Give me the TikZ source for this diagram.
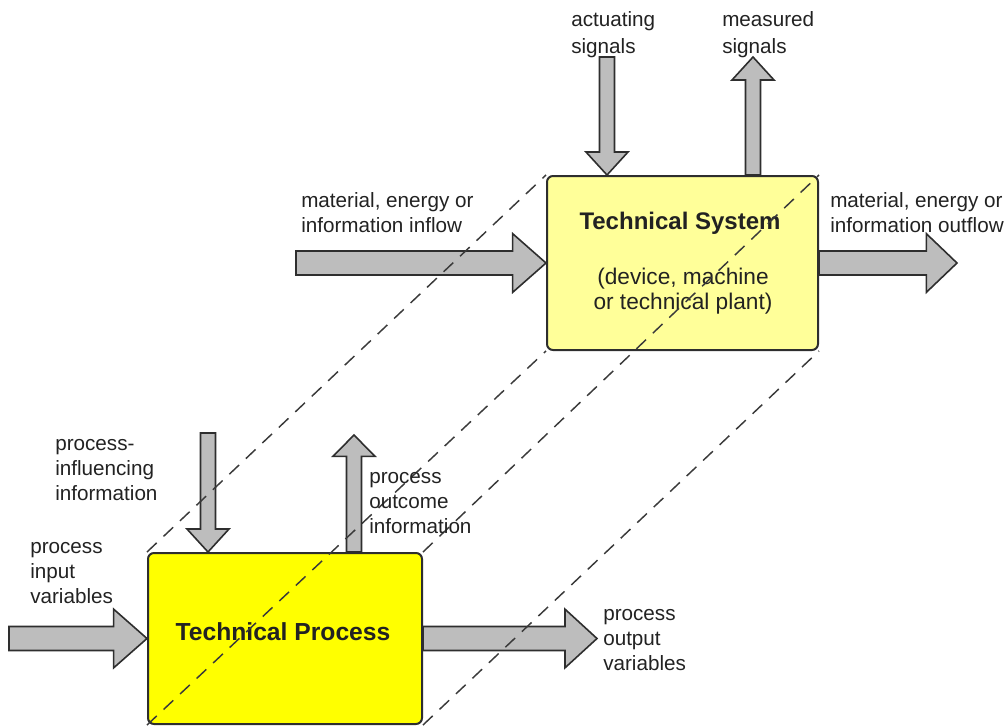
\documentclass[tikz,border=0pt]{standalone}
\usepackage{fontspec}
\setmainfont{Liberation Sans}
\usetikzlibrary{calc}
\definecolor{sysfill}{HTML}{FFFF99}
\definecolor{procfill}{HTML}{FFFF00}
\definecolor{arrfill}{HTML}{BDBDBD}
\definecolor{edgec}{HTML}{2E2E2E}
\definecolor{dashc}{HTML}{3A3A3A}
\definecolor{txtc}{HTML}{222222}
% #1 start, #2 end, #3 shaft half width, #4 head half width, #5 head length
\newcommand{\blockarr}[5]{%
  \path coordinate (ba-h) at ($(#2)!#5!(#1)$);
  \draw[barrow] ($(#1)!#3!90:(#2)$) -- ($(ba-h)!#3!-90:(#1)$) -- ($(ba-h)!#4!-90:(#1)$)
     -- (#2) -- ($(ba-h)!#4!90:(#1)$) -- ($(ba-h)!#3!90:(#1)$) -- ($(#1)!#3!-90:(#2)$) -- cycle;}
\begin{document}
\begin{tikzpicture}[x=0.75pt,y=-0.75pt,
  box/.style={draw=edgec, line width=1.5pt, rounded corners=4.5pt, inner sep=0pt},
  barrow/.style={draw=edgec, fill=arrfill, line width=1.2pt, line join=miter},
  guide/.style={draw=dashc, line width=1.1pt, dash pattern=on 10pt off 7pt},
  lbl/.style={anchor=base west, align=left, inner sep=0pt, text=txtc, font=\fontsize{15.5}{18.75}\selectfont},
  lbltop/.style={lbl, font=\fontsize{15.5}{20.25}\selectfont}]
\useasboundingbox (0,0) rectangle (1008,726);
% boxes
\node[box, fill=sysfill, minimum width=203.25pt, minimum height=130.5pt] (sys) at (682.5,263) {};
\node[box, fill=procfill, minimum width=205.5pt, minimum height=128.25pt] (proc) at (285,638.5) {};
\node[text=txtc, font=\bfseries\fontsize{18}{20}\selectfont] (systitle) at (680,223) {Technical System};
\node[text=txtc, font=\fontsize{17}{18.75}\selectfont, align=center] (syssub) at (683,291.5) {(device, machine\\or technical plant)};
\node[text=txtc, font=\bfseries\fontsize{18.5}{20}\selectfont] (proctitle) at (283,632) {Technical Process};
% arrow end points
\coordinate (inS) at (296,263);
\coordinate (outE) at (957,263);
\coordinate (actS) at (607,57);
\coordinate (actE) at (actS |- sys.north);
\coordinate (measE) at (753,57);
\coordinate (measS) at (measE |- sys.north);
\coordinate (infS) at (208,433);
\coordinate (infE) at (infS |- proc.north);
\coordinate (outcE) at (354,435);
\coordinate (outcS) at (outcE |- proc.north);
\coordinate (inpS) at (9,638.5);
\coordinate (outpE) at (597,638.5);
% block arrows
\blockarr{inS}{sys.west}{9pt}{22pt}{25pt}
\blockarr{sys.east}{outE}{9pt}{22pt}{23pt}
\blockarr{actS}{actE}{5.6pt}{15.75pt}{17.25pt}
\blockarr{measS}{measE}{5.6pt}{15.75pt}{17.25pt}
\blockarr{infS}{infE}{5.6pt}{15.75pt}{17.25pt}
\blockarr{outcS}{outcE}{5.6pt}{15.75pt}{16pt}
\blockarr{inpS}{proc.west}{9pt}{22pt}{25pt}
\blockarr{proc.east}{outpE}{9pt}{22pt}{24pt}
% dashed projection lines
\draw[guide] (proc.north west) -- (sys.north west);
\draw[guide] (proc.north east) -- (sys.north east);
\draw[guide] (proc.south west) -- (sys.south west);
\draw[guide] (proc.south east) -- (sys.south east);
% labels (base = last line baseline)
\node[lbltop] (lact) at (571,53) {actuating\\signals};
\node[lbltop] (lmeas) at (722,53) {measured\\signals};
\node[lbl] (lin) at (301,232) {material, energy or\\information inflow};
\node[lbl] (lout) at (830,232) {material, energy or\\information outflow};
\node[lbl] (linf) at (55,500) {process-\\influencing\\information};
\node[lbl] (loutc) at (369,533) {process\\outcome\\information};
\node[lbl] (linp) at (30,603) {process\\input\\variables};
\node[lbl] (loutp) at (603,670) {process\\output\\variables};
\end{tikzpicture}
\end{document}
